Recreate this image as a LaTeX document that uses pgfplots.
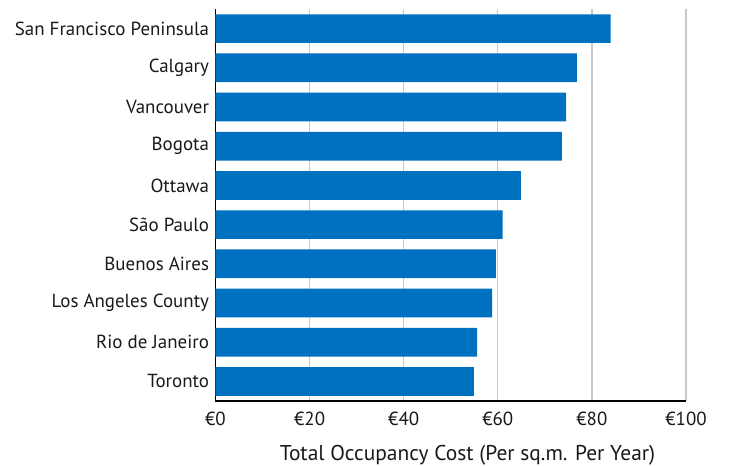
\documentclass[border=0pt]{standalone}
\usepackage{fontspec}
\setmainfont{PT Sans}
\usepackage{pgfplots}
\pgfplotsset{compat=1.18}
\definecolor{barblue}{HTML}{0070C0}
\definecolor{gridgray}{HTML}{C8C8CC}
\begin{document}
\begin{tikzpicture}
\useasboundingbox (-215.5bp,-65bp) rectangle (514.5bp,401bp);
\begin{axis}[
  at={(0,0)}, anchor=south west,
  scale only axis,
  width=470.5bp, height=392bp,
  xbar, bar width=28.7bp,
  xmin=0, xmax=100,
  ymin=-0.5, ymax=9.5,
  y dir=reverse,
  axis x line*=bottom, axis y line*=left,
  axis line style={black, line width=2pt, -},
  xtick={0,20,40,60,80,100},
  xticklabels={€0,€20,€40,€60,€80,€100},
  ytick={0,...,9},
  yticklabels={San Francisco Peninsula,Calgary,Vancouver,Bogota,Ottawa,São Paulo,Buenos Aires,Los Angeles County,Rio de Janeiro,Toronto},
  major tick length=0pt,
  xmajorgrids,
  grid style={gridgray, line width=1.4pt},
  tick label style={font=\fontsize{19}{22}\selectfont, text=black!90},
  xticklabel style={anchor=base, yshift=-24bp},
  yticklabel style={xshift=-3bp},
  xlabel={Total Occupancy Cost (Per sq.m. Per Year)},
  xlabel style={font=\fontsize{21.5}{24}\selectfont, text=black!90, at={(axis description cs:0.5356,-0.153)}, anchor=base},
]
\addplot[fill=barblue, draw=none] coordinates {
  (84.0,0) (76.8,1) (74.5,2) (73.6,3) (64.9,4)
  (61.0,5) (59.6,6) (58.8,7) (55.6,8) (54.9,9)
};
\end{axis}
\end{tikzpicture}
\end{document}
